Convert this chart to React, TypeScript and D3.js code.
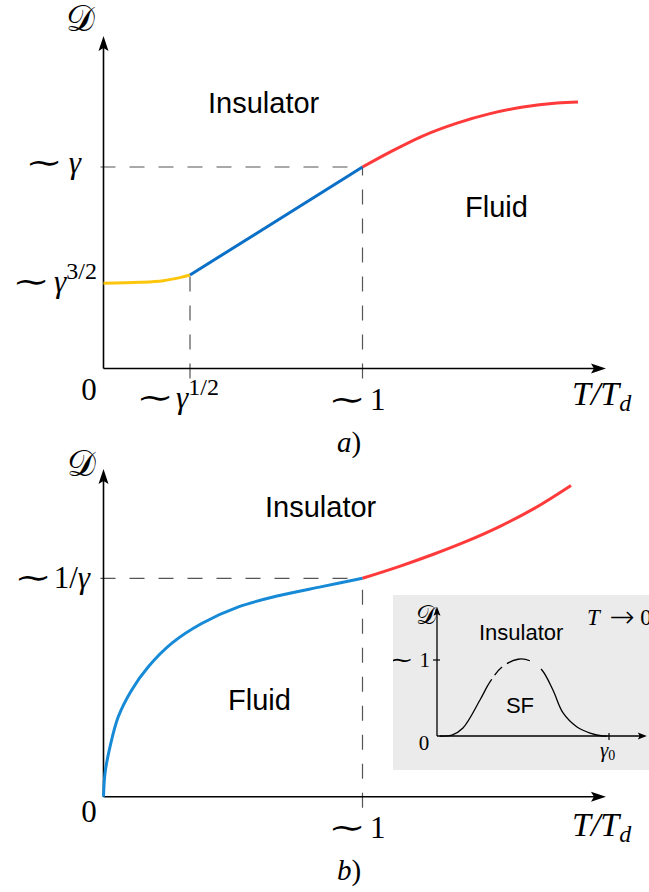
import React from "react";
import * as d3 from "d3";

// panel a) : x in T/T_d (~1 = 1), y in units of the ~gamma level
const aLowT = [[0, 0.423], [0.141, 0.428], [0.231, 0.436], [0.295, 0.451], [0.334, 0.464]];
const aMidT = [[0.334, 0.464], [1, 1]];
const aHighT = [[1, 1], [1.106, 1.074], [1.234, 1.155], [1.365, 1.218], [1.493, 1.265], [1.62, 1.298], [1.751, 1.318], [1.832, 1.323]];
const aTicksX = [0.334, 1];
const aTicksY = [1, 0.423];

// panel b) : y in units of the ~1/gamma level
const bFluid = [[0, 0], [0.006, 0.109], [0.025, 0.228], [0.057, 0.366], [0.109, 0.489], [0.173, 0.595], [0.263, 0.702], [0.379, 0.793], [0.521, 0.869], [0.675, 0.92], [0.843, 0.962], [1, 1]];
const bHighT = [[1, 1], [1.146, 1.056], [1.274, 1.11], [1.403, 1.17], [1.531, 1.238], [1.66, 1.318], [1.75, 1.383], [1.805, 1.425]];

// inset (T -> 0) : x in gamma/gamma0, y in units of ~1
const insetCurve = [[0.017, 0], [0.087, 0.013], [0.151, 0.105], [0.25, 0.474], [0.308, 0.711], [0.378, 0.908], [0.471, 1.01], [0.54, 0.99], [0.61, 0.868], [0.674, 0.605], [0.733, 0.303], [0.814, 0.118], [0.89, 0.039], [0.965, 0], [0.99, 0]];

const MATH = "'Liberation Serif', 'DejaVu Serif', serif";
const SYM = "'DejaVu Sans', sans-serif";
const SANS = "'Liberation Sans', Arial, sans-serif";
const DASH = "#555";

const Arrow = ({ x1, y1, x2, y2, len = 15, half = 5, w = 1.6 }) => {
  const a = Math.atan2(y2 - y1, x2 - x1);
  return (
    <g>
      <line x1={x1} y1={y1} x2={x2 - Math.cos(a) * len * 0.6} y2={y2 - Math.sin(a) * len * 0.6} stroke="#000" strokeWidth={w} />
      <path d={`M0,0 L${-len},${-half} L${-len * 0.8},0 L${-len},${half} Z`} transform={`translate(${x2},${y2}) rotate(${(a * 180) / Math.PI})`} fill="#000" />
    </g>
  );
};

// thin tilde, stretched sideways like the TeX \sim
const Tilde = ({ cx, y, size = 31, sx = 1.45 }) => (
  <text transform={`translate(${cx},${y}) scale(${sx},1)`} fontFamily={MATH} fontSize={size} textAnchor="middle">∼</text>
);

const App = () => {
  const x = d3.scaleLinear().domain([0, 1]).range([103.5, 362.5]);
  const ya = d3.scaleLinear().domain([0, 1]).range([368.5, 167]);
  const yb = d3.scaleLinear().domain([0, 1]).range([796.7, 578.3]);
  const xi = d3.scaleLinear().domain([0, 1]).range([437, 609]);
  const yi = d3.scaleLinear().domain([0, 1]).range([736, 660]);

  const curve = d3.curveCatmullRom.alpha(0.5);
  const lineA = d3.line().x((d) => x(d[0])).y((d) => ya(d[1])).curve(curve);
  const lineB = d3.line().x((d) => x(d[0])).y((d) => yb(d[1])).curve(curve);
  const lineI = d3.line().x((d) => xi(d[0])).y((d) => yi(d[1])).curve(curve);

  return (
    <svg width={649} height={892} style={{ position: "absolute", left: 0, top: 0, background: "#fff" }}>
      <defs>
        <clipPath id="insetClip">
          <rect x={393} y={595} width={256} height={175} />
        </clipPath>
      </defs>
      {/* ---------- panel a ---------- */}
      <line x1={x(0) - 7} y1={ya(aTicksY[0])} x2={x(1)} y2={ya(aTicksY[0])} stroke={DASH} strokeWidth={1.2} strokeDasharray="15,14" strokeDashoffset={-4} />
      {aTicksX.map((t) => (
        <line key={t} x1={x(t)} y1={ya(0) + 10} x2={x(t)} y2={t === 1 ? ya(1) : ya(aLowT[aLowT.length - 1][1])} stroke={DASH} strokeWidth={1.2} strokeDasharray="15,14" />
      ))}
      <Arrow x1={x(0)} y1={ya(0)} x2={x(0)} y2={ya(1.65)} />
      <Arrow x1={x(0)} y1={ya(0)} x2={x(1.94)} y2={ya(0)} />
      <path d={lineA(aLowT)} fill="none" stroke="#fcc60d" strokeWidth={3} />
      <path d={lineA(aMidT)} fill="none" stroke="#0a6fc6" strokeWidth={3} />
      <path d={lineA(aHighT)} fill="none" stroke="#ff3a3a" strokeWidth={3} />

      <text x={80} y={31} fontFamily={MATH} fontSize={36} textAnchor="middle">𝒟</text>
      <Tilde cx={44} y={173} />
      <text x={81} y={173} fontFamily={MATH} fontSize={31} fontStyle="italic" textAnchor="end">γ</text>
      <Tilde cx={31} y={292} />
      <text x={97} y={292} fontFamily={MATH} fontSize={31} textAnchor="end"><tspan fontStyle="italic">γ</tspan><tspan fontSize={24} dy={-13}>3/2</tspan></text>
      <text x={89} y={400} fontFamily={MATH} fontSize={31} textAnchor="middle">0</text>
      <Tilde cx={155} y={408} />
      <text x={176} y={408} fontFamily={MATH} fontSize={31}><tspan fontStyle="italic">γ</tspan><tspan fontSize={24} dy={-13}>1/2</tspan></text>
      <Tilde cx={347} y={410} />
      <text x={370} y={410} fontFamily={MATH} fontSize={31}>1</text>
      <text x={572} y={405} fontFamily={MATH} fontSize={34} fontStyle="italic">T/T<tspan fontSize={24} dy={6}>d</tspan></text>
      <text x={337} y={452} fontFamily={MATH} fontSize={29}><tspan fontStyle="italic">a</tspan>)</text>
      <text x={208} y={113} fontFamily={SANS} fontSize={29}>Insulator</text>
      <text x={465} y={217} fontFamily={SANS} fontSize={29}>Fluid</text>

      {/* ---------- panel b ---------- */}
      <line x1={x(0) - 7} y1={yb(1)} x2={x(1)} y2={yb(1)} stroke={DASH} strokeWidth={1.2} strokeDasharray="15,14" strokeDashoffset={-4} />
      <line x1={x(1)} y1={yb(0) + 11} x2={x(1)} y2={yb(1)} stroke={DASH} strokeWidth={1.2} strokeDasharray="15,14" />
      <Arrow x1={x(0)} y1={yb(0)} x2={x(0)} y2={yb(1.5)} />
      <Arrow x1={x(0)} y1={yb(0)} x2={x(1.94)} y2={yb(0)} />
      <path d={lineB(bFluid)} fill="none" stroke="#168ad6" strokeWidth={3} />
      <path d={lineB(bHighT)} fill="none" stroke="#ff3a3a" strokeWidth={3} />

      <text x={81} y={476} fontFamily={MATH} fontSize={36} textAnchor="middle">𝒟</text>
      <Tilde cx={33} y={588} />
      <text x={90} y={588} fontFamily={MATH} fontSize={31} textAnchor="end">1/<tspan fontStyle="italic">γ</tspan></text>
      <text x={89} y={822} fontFamily={MATH} fontSize={31} textAnchor="middle">0</text>
      <Tilde cx={347} y={838} />
      <text x={370} y={838} fontFamily={MATH} fontSize={31}>1</text>
      <text x={572} y={836} fontFamily={MATH} fontSize={34} fontStyle="italic">T/T<tspan fontSize={24} dy={6}>d</tspan></text>
      <text x={337} y={880} fontFamily={MATH} fontSize={29}><tspan fontStyle="italic">b</tspan>)</text>
      <text x={265} y={517} fontFamily={SANS} fontSize={29}>Insulator</text>
      <text x={228} y={710} fontFamily={SANS} fontSize={29}>Fluid</text>

      {/* ---------- inset ---------- */}
      <rect x={393} y={595} width={256} height={175} fill="#ebebeb" />
      <g clipPath="url(#insetClip)">
        <Arrow x1={xi(0)} y1={yi(0)} x2={xi(0)} y2={yi(1.7)} len={9} half={3.5} w={1.3} />
        <Arrow x1={xi(0)} y1={yi(0)} x2={xi(1.22)} y2={yi(0)} len={9} half={3.5} w={1.3} />
        <line x1={xi(0) - 4} y1={yi(1)} x2={xi(0) + 3} y2={yi(1)} stroke="#000" strokeWidth={1.2} />
        <line x1={xi(1)} y1={yi(0) - 3} x2={xi(1)} y2={yi(0) + 4} stroke="#000" strokeWidth={1.2} />
        <path d={lineI(insetCurve)} fill="none" stroke="#000" strokeWidth={1.3} strokeDasharray="82,5,11,6,24,14,400" />

        <text x={426} y={624} fontFamily={MATH} fontSize={26} textAnchor="middle">𝒟</text>
        <text x={587} y={625} fontFamily={MATH} fontSize={23}><tspan fontStyle="italic">T</tspan><tspan fontFamily={SYM} fontSize={30} dy={2} fontWeight={300}> →</tspan><tspan dy={-2}> 0</tspan></text>
        <text x={479} y={640} fontFamily={SANS} fontSize={22}>Insulator</text>
        <Tilde cx={401} y={667} size={21} />
        <text x={430} y={667} fontFamily={MATH} fontSize={21} textAnchor="end">1</text>
        <text x={424} y={750} fontFamily={MATH} fontSize={21} textAnchor="middle">0</text>
        <text x={600} y={757} fontFamily={MATH} fontSize={21}><tspan fontStyle="italic">γ</tspan><tspan fontSize={14} dy={3}>0</tspan></text>
        <text x={520} y={713} fontFamily={SANS} fontSize={22} textAnchor="middle">SF</text>
      </g>
    </svg>
  );
};

export default App;
